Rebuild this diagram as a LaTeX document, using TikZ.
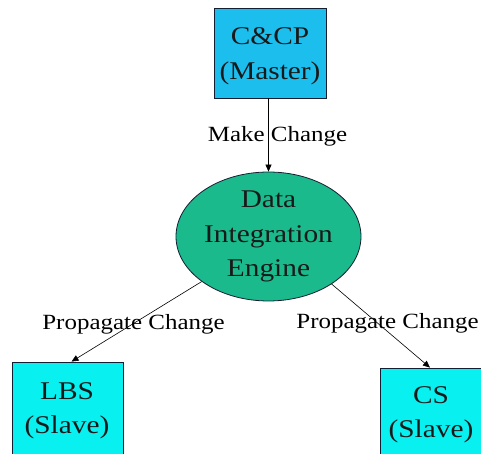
\documentclass[tikz,border=0pt]{standalone}
\usepackage{fontspec}
\setmainfont{Liberation Serif}[FakeStretch=1.15]
\usetikzlibrary{shapes.geometric,arrows.meta}
\definecolor{masterblue}{RGB}{28,190,238}
\definecolor{slavecyan}{RGB}{8,240,240}
\definecolor{enginegreen}{RGB}{26,186,140}
\definecolor{edgeline}{RGB}{20,30,50}
\tikzset{
  boxshape/.style={draw=edgeline, line width=0.8pt, inner sep=0pt},
  boxtext/.style={align=center, inner sep=0pt, text=black!90,
    font=\fontsize{25.5}{34.5}\selectfont},
  enginenode/.style={ellipse, draw=edgeline, line width=0.8pt, fill=enginegreen,
    minimum width=185pt, minimum height=127pt, inner sep=0pt, align=center,
    text=black!90, font=\fontsize{25.5}{34.5}\selectfont},
  edgelabel/.style={anchor=base, inner sep=0pt, font=\fontsize{21.7}{26}\selectfont},
  conn/.style={draw=black, line width=0.6pt, -{Triangle[length=7pt,width=6pt]}}
}
\begin{document}
\begin{tikzpicture}[x=1pt,y=1pt]
\useasboundingbox (0,0) rectangle (481,454);
\clip (0,0) rectangle (481,454);
\node[boxshape, fill=masterblue, minimum width=112pt, minimum height=90pt] (master) at (270,401) {};
\node[boxshape, fill=slavecyan, minimum width=111pt, minimum height=102pt] (lbs) at (67.5,41) {};
\node[boxshape, fill=slavecyan, minimum width=102pt, minimum height=96pt] (cs) at (431,38) {};
\node[boxtext] (mastertext) at (270,398) {C\&CP\\(Master)};
\node[boxtext] (lbstext) at (67,43) {LBS\\(Slave)};
\node[boxtext] (cstext) at (431,39) {CS\\(Slave)};
\node[enginenode] (die) at (268.5,217.5) {Data\\Integration\\Engine};
\draw[conn] (master.south -| die.north) -- (die.north);
\draw[conn] (die.214) -- ([xshift=4pt]lbs.north);
\draw[conn] (die.323) -- ([xshift=-1pt]cs.north);
\node[edgelabel] (lmake) at (277.5,312.3) {Make Change};
\node[edgelabel] (lprop1) at (133.5,124.7) {Propagate Change};
\node[edgelabel] (lprop2) at (387.5,125.7) {Propagate Change};
\end{tikzpicture}
\end{document}
